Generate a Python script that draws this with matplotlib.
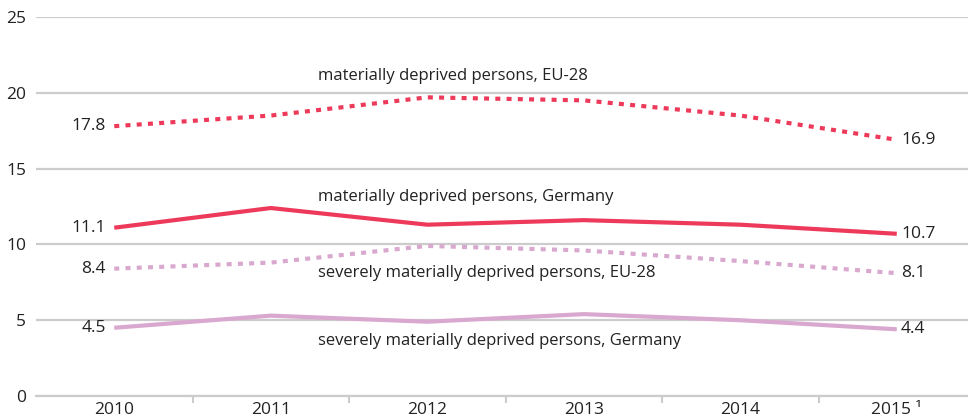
import matplotlib
matplotlib.use('Agg')
import matplotlib.pyplot as plt

years = ['2010', '2011', '2012', '2013', '2014', '2015 \u00b9']
eu_material = [17.8, 18.5, 19.7, 19.5, 18.5, 16.9]
de_material = [11.1, 12.4, 11.3, 11.6, 11.3, 10.7]
eu_severe = [8.4, 8.8, 9.9, 9.6, 8.9, 8.1]
de_severe = [4.5, 5.3, 4.9, 5.4, 5.0, 4.4]

red = '#ee3a5a'
pink = '#d9a8cf'
txt = '#222222'

plt.rcParams['font.family'] = ['Open Sans', 'DejaVu Sans']

fig = plt.figure(figsize=(9.68, 4.2), dpi=100)
ax = fig.add_axes([36/968, 1-396/420, 1-36/968, (396-17)/420])

x = list(range(len(years)))
dot = (0, (1.2, 1.5))
ax.plot(x, eu_material, color=red, lw=3, linestyle=dot, dash_capstyle='butt', zorder=3)
ax.plot(x, de_material, color=red, lw=3, solid_capstyle='butt', zorder=3)
ax.plot(x, eu_severe, color=pink, lw=3, linestyle=dot, dash_capstyle='butt', zorder=3)
ax.plot(x, de_severe, color=pink, lw=3, solid_capstyle='butt', zorder=3)

# value labels at both ends
for s in [eu_material, de_material, eu_severe, de_severe]:
    ax.annotate(f'{s[0]:.1f}', (0, s[0]), xytext=(-6, 0), textcoords='offset points',
                ha='right', va='center', fontsize=12.5, color=txt)
    ax.annotate(f'{s[-1]:.1f}', (5, s[-1]), xytext=(3, 0), textcoords='offset points',
                ha='left', va='center', fontsize=12.5, color=txt)

# series names
fs = 12
ax.text(1.3, 21.1, 'materially deprived persons, EU-28', fontsize=fs, color=txt, va='center')
ax.text(1.3, 13.1, 'materially deprived persons, Germany', fontsize=fs, color=txt, va='center')
ax.text(1.3, 8.1, 'severely materially deprived persons, EU-28', fontsize=fs, color=txt, va='center')
ax.text(1.3, 3.65, 'severely materially deprived persons, Germany', fontsize=fs, color=txt, va='center')

ax.set_ylim(0, 25)
ax.set_xlim(-0.5, 5.455)
ax.set_yticks([0, 5, 10, 15, 20, 25])
ax.set_xticks(x)
ax.set_xticklabels(years)
ax.set_xticks([i + 0.5 for i in range(5)], minor=True)
ax.tick_params(axis='x', which='major', length=0, pad=4, labelsize=12.5, labelcolor=txt)
ax.tick_params(axis='x', which='minor', length=5, width=1.5, color='#cccccc')
ax.tick_params(axis='y', length=0, pad=7, labelsize=12.5, labelcolor=txt)

ax.grid(axis='y', color='#cccccc', lw=1.6)
ax.set_axisbelow(True)
for side in ['top', 'right', 'left']:
    ax.spines[side].set_visible(False)
ax.spines['bottom'].set_color('#cccccc')
ax.spines['bottom'].set_linewidth(1.6)

fig.savefig('out.png', dpi=100)
